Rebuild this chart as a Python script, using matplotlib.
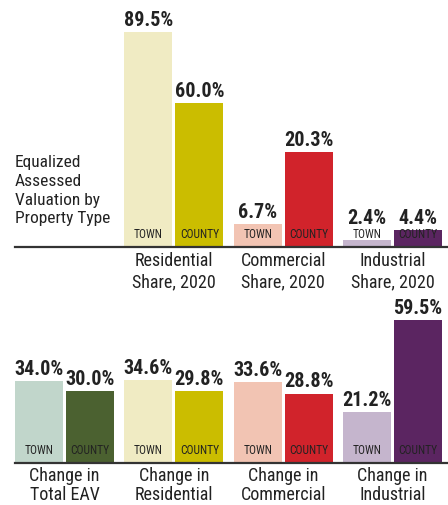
import matplotlib
matplotlib.use("Agg")
import matplotlib.pyplot as plt
import numpy as np

plt.rcParams['font.family'] = ['Roboto Condensed', 'DejaVu Sans']
plt.rcParams['font.stretch'] = 'condensed'

# top panel: share of EAV, 2020
share_groups = ["Residential\nShare, 2020", "Commercial\nShare, 2020", "Industrial\nShare, 2020"]
share_town = [89.5, 6.7, 2.4]
share_county = [60.0, 20.3, 4.4]
# drawn bar heights as they appear in the graphic (not to scale for small values)
share_town_drawn = [89.5, 9.6, 2.9]
share_county_drawn = [60.0, 39.6, 7.1]

# bottom panel: change in EAV
change_groups = ["Change in\nTotal EAV", "Change in\nResidential", "Change in\nCommercial", "Change in\nIndustrial"]
change_town = [34.0, 34.6, 33.6, 21.2]
change_county = [30.0, 29.8, 28.8, 59.5]

town_colors = ["#c1d6cb", "#f0ebc3", "#f2c4b3", "#c5b5cd"]
county_colors = ["#4b6130", "#cbbd00", "#d1232b", "#5b2561"]

W, H = 448, 505
fig = plt.figure(figsize=(W / 100, H / 100), dpi=100)
PX = 2.4  # pixels per percentage point

def make_ax(top_px, base_px):
    ax = fig.add_axes([15 / W, (H - base_px) / H, 433 / W, (base_px - top_px) / H])
    ax.set_xlim(0, 433 / 109.33)
    ax.set_ylim(0, (base_px - top_px) / PX)
    ax.axis('off')
    ax.axhline(0, color='#333333', lw=1.6, clip_on=False)
    return ax

bw = 48 / 109.33
off_t = 24 / 109.33
off_c = 75 / 109.33

def draw(ax, idx, town, county, town_h, county_h, labels, lab_y, lab_ls):
    for k, i in enumerate(idx):
        for val, h, off, col, name in [(town[k], town_h[k], off_t, town_colors[i], "TOWN"),
                                        (county[k], county_h[k], off_c, county_colors[i], "COUNTY")]:
            x = i + off
            ax.bar(x, h, width=bw, color=col, align='center')
            ax.text(x, 5.0, name, ha='center', va='center', fontsize=8.3, color='#222222')
            ax.text(x, max(h, 7.1) + 1.0, f"{val:.1f}%", ha='center', va='bottom',
                    fontsize=14.5, fontweight='bold', color='#222222')
        ax.text(i + 0.5 * (off_t + off_c), lab_y, labels[k], ha='center', va='top',
                fontsize=13, color='#222222', linespacing=lab_ls)

# top panel
ax1 = make_ax(0, 247)
draw(ax1, [1, 2, 3], share_town, share_county, share_town_drawn, share_county_drawn,
     share_groups, -2.2, 1.2)
ax1.text(0, 38.2, "Equalized\nAssessed\nValuation by\nProperty Type", ha='left', va='top',
         fontsize=12.5, color='#222222', linespacing=1.3)

# bottom panel
ax2 = make_ax(300, 463)
draw(ax2, [0, 1, 2, 3], change_town, change_county, change_town, change_county,
     change_groups, -1.8, 1.08)

fig.savefig("out.png", dpi=100)
